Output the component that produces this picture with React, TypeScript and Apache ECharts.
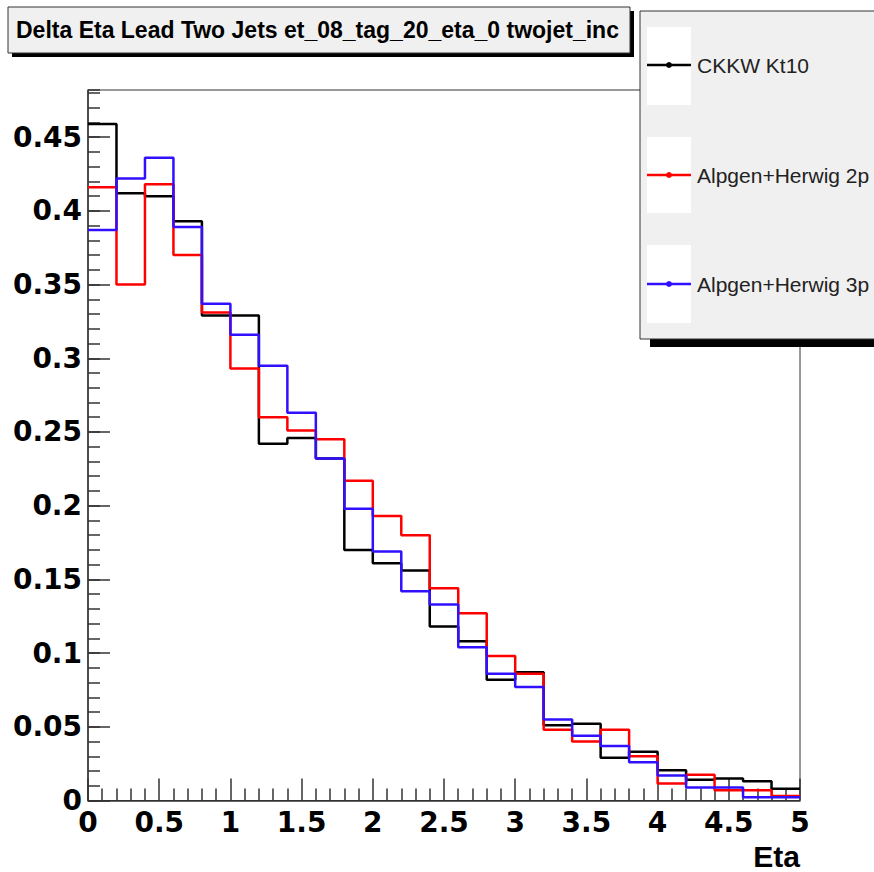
import React, { useEffect, useRef } from "react";
import * as echarts from "echarts";

const binEdges = [0, 0.2, 0.4, 0.6, 0.8, 1.0, 1.2, 1.4, 1.6, 1.8, 2.0, 2.2, 2.4, 2.6, 2.8, 3.0, 3.2, 3.4, 3.6, 3.8, 4.0, 4.2, 4.4, 4.6, 4.8, 5.0];

const ckkwKt10 = [0.459, 0.412, 0.410, 0.393, 0.329, 0.329, 0.242, 0.246, 0.232, 0.170, 0.161, 0.156, 0.118, 0.108, 0.082, 0.087, 0.051, 0.052, 0.029, 0.033, 0.0205, 0.014, 0.015, 0.013, 0.008];
const alpgen2p = [0.416, 0.350, 0.418, 0.370, 0.331, 0.293, 0.260, 0.251, 0.245, 0.217, 0.193, 0.180, 0.144, 0.127, 0.098, 0.086, 0.048, 0.040, 0.048, 0.030, 0.0115, 0.0175, 0.007, 0.007, 0.003];
const alpgen3p = [0.387, 0.422, 0.436, 0.389, 0.337, 0.316, 0.295, 0.263, 0.232, 0.198, 0.169, 0.142, 0.133, 0.104, 0.086, 0.077, 0.055, 0.044, 0.037, 0.026, 0.017, 0.0088, 0.0088, 0.0022, 0.0022];

const seriesNames = ["CKKW Kt10", "Alpgen+Herwig 2p", "Alpgen+Herwig 3p"];
const seriesColors = ["#000000", "#ff0000", "#3010ff"];
const titleText = "Delta Eta Lead Two Jets et_08_tag_20_eta_0 twojet_inc";
const xTitle = "Eta";

const toSteps = (vals: number[]) =>
  binEdges.map((e, i) => [e, vals[Math.min(i, vals.length - 1)]]);

export default function App() {
  const ref = useRef<HTMLDivElement>(null);
  useEffect(() => {
    if (!ref.current) return;
    const chart = echarts.init(ref.current, undefined, { renderer: "svg" });
    const axisColor = "#333333";
    const labelFont = {
      fontFamily: "DejaVu Sans",
      fontWeight: "bold" as const,
      fontSize: 28,
      color: "#000",
    };
    const allVals = [ckkwKt10, alpgen2p, alpgen3p];
    const legendRows = [65, 175, 284];
    const legendBoxes = [
      [27, 78],
      [137, 76],
      [245, 78],
    ];
    const legendGraphics: any[] = [];
    seriesNames.forEach((name, i) => {
      legendGraphics.push({
        type: "rect",
        z: 102,
        shape: { x: 647, y: legendBoxes[i][0], width: 44, height: legendBoxes[i][1] },
        style: { fill: "#ffffff" },
      });
      legendGraphics.push({
        type: "line",
        z: 103,
        shape: { x1: 647, y1: legendRows[i], x2: 691, y2: legendRows[i] },
        style: { stroke: seriesColors[i], lineWidth: 2.5 },
      });
      legendGraphics.push({
        type: "circle",
        z: 104,
        shape: { cx: 669, cy: legendRows[i], r: 3 },
        style: { fill: seriesColors[i] },
      });
      legendGraphics.push({
        type: "text",
        z: 104,
        x: 697,
        y: legendRows[i],
        style: {
          text: name,
          fill: "#222",
          fontFamily: "Liberation Sans",
          fontSize: 21,
          verticalAlign: "middle",
          align: "left",
        },
      });
    });

    chart.setOption({
      animation: false,
      backgroundColor: "#ffffff",
      grid: {
        left: 88,
        top: 90,
        right: 74,
        bottom: 71.5,
        show: true,
        borderColor: axisColor,
        borderWidth: 1,
      },
      xAxis: [
        {
          type: "value",
          min: 0,
          max: 5,
          interval: 0.5,
          axisLine: { show: true, lineStyle: { color: axisColor, width: 1.5 } },
          axisTick: { show: true, inside: true, length: 22, lineStyle: { color: axisColor, width: 1.5 } },
          minorTick: { show: true, splitNumber: 5, length: 12, lineStyle: { color: axisColor, width: 1.5 } },
          splitLine: { show: false },
          axisLabel: { ...labelFont, margin: 8 },
        },
      ],
      yAxis: [
        {
          type: "value",
          min: 0,
          max: 0.482,
          interval: 0.05,
          axisLine: { show: true, lineStyle: { color: axisColor, width: 1.5 } },
          axisTick: { show: true, inside: true, length: 22, lineStyle: { color: axisColor, width: 1.5 } },
          splitLine: { show: false },
          axisLabel: { ...labelFont, margin: 6, showMaxLabel: false },
        },
        {
          type: "value",
          position: "left",
          min: 0,
          max: 0.482,
          interval: 0.01,
          axisLine: { show: false },
          axisTick: { show: true, inside: true, length: 12, lineStyle: { color: axisColor, width: 1.5 } },
          splitLine: { show: false },
          axisLabel: { show: false },
        },
      ],
      series: allVals.map((vals, i) => ({
        name: seriesNames[i],
        type: "line",
        step: "end",
        showSymbol: false,
        symbol: "none",
        yAxisIndex: 0,
        z: 2 + i,
        lineStyle: { color: seriesColors[i], width: 2.5 },
        itemStyle: { color: seriesColors[i] },
        data: toSteps(vals),
      })),
      graphic: [
        {
          type: "rect",
          z: 100,
          shape: { x: 12, y: 11, width: 622, height: 46 },
          style: { fill: "#000000" },
        },
        {
          type: "rect",
          z: 101,
          shape: { x: 8, y: 7, width: 622, height: 46 },
          style: { fill: "#f0f0f0", stroke: axisColor, lineWidth: 1 },
        },
        {
          type: "text",
          z: 102,
          x: 16,
          y: 30,
          style: {
            text: titleText,
            fill: "#000",
            fontFamily: "Liberation Sans",
            fontWeight: "bold",
            fontSize: 23,
            verticalAlign: "middle",
            align: "left",
          },
        },
        {
          type: "text",
          z: 102,
          x: 800,
          y: 856,
          style: {
            text: xTitle,
            fill: "#000",
            fontFamily: "Liberation Sans",
            fontWeight: "bold",
            fontSize: 30,
            verticalAlign: "middle",
            align: "right",
          },
        },
        {
          type: "rect",
          z: 100,
          shape: { x: 650, y: 19, width: 260, height: 328 },
          style: { fill: "#000000" },
        },
        {
          type: "rect",
          z: 101,
          shape: { x: 640, y: 11, width: 260, height: 328 },
          style: { fill: "#f0f0f0", stroke: axisColor, lineWidth: 1 },
        },
        ...legendGraphics,
      ],
    });
    return () => chart.dispose();
  }, []);
  return (
    <div
      ref={ref}
      style={{ position: "fixed", left: 0, top: 0, width: 874, height: 872 }}
    />
  );
}
